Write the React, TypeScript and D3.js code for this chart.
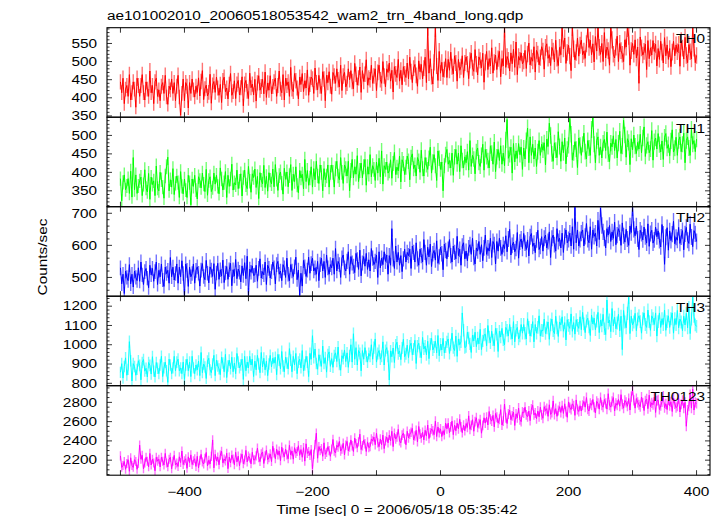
import React from "react";
import * as d3 from "d3";

// ---- data (1 value every DT seconds, starting at T0) ----
const T0 = -500;
const DT = 2;
const TITLE = "ae101002010_20060518053542_wam2_trn_4band_long.qdp";
const X_LABEL = "Time [sec] 0 = 2006/05/18 05:35:42";
const Y_LABEL = "Counts/sec";
const X_TICKS = [-500, -400, -300, -200, -100, 0, 100, 200, 300, 400];
const X_TICK_LABELS = [-400, -200, 0, 200, 400];
const BANDS = ["TH0", "TH1", "TH2", "TH3", "TH0123"];

const TH0 = [
  444, 414, 454, 384, 424, 434, 404, 464, 394, 414, 444, 424, 374, 454, 434,
  404, 434, 464, 414, 394, 444, 424, 404, 474, 414, 434, 384, 444, 454, 404,
  422, 392, 432, 442, 412, 462, 402, 382, 432, 422, 452, 412, 442, 392, 432,
  462, 402, 352, 412, 452, 392, 442, 432, 372, 442, 412, 452, 422, 402, 432,
  415, 455, 405, 445, 475, 395, 425, 435, 405, 415, 465, 385, 435, 445, 415,
  457, 427, 407, 437, 387, 447, 457, 417, 427, 397, 437, 467, 407, 417, 447,
  398, 438, 448, 408, 428, 458, 378, 438, 448, 418, 398, 468, 428, 438, 408,
  451, 391, 441, 461, 421, 431, 451, 411, 471, 401, 441, 421, 461, 411, 431,
  444, 454, 404, 434, 474, 424, 414, 464, 394, 454, 434, 444, 404, 484, 424,
  417, 467, 447, 427, 397, 457, 437, 467, 417, 447, 427, 477, 407, 437, 457,
  452, 412, 482, 442, 422, 462, 432, 412, 472, 452, 392, 462, 442, 472, 432,
  410, 470, 460, 440, 480, 450, 430, 490, 420, 460, 470, 430, 440, 480, 450,
  475, 445, 425, 495, 465, 435, 455, 485, 415, 475, 445, 465, 505, 435, 455,
  450, 490, 440, 460, 480, 420, 470, 490, 450, 440, 500, 460, 430, 480, 470,
  496, 446, 476, 416, 486, 466, 456, 506, 446, 476, 436, 486, 466, 456, 496,
  452, 512, 472, 442, 482, 492, 462, 432, 502, 472, 492, 452, 482, 512, 442,
  596, 468, 508, 458, 438, 498, 592, 488, 448, 528, 468, 498, 458, 478, 508,
  456, 506, 476, 526, 486, 466, 516, 496, 446, 506, 476, 486, 516, 456, 496,
  513, 493, 453, 503, 523, 483, 473, 533, 493, 463, 513, 503, 483, 523, 443,
  498, 528, 478, 508, 488, 538, 468, 498, 518, 478, 508, 528, 458, 508, 488,
  591, 484, 514, 504, 474, 524, 494, 534, 484, 554, 464, 514, 504, 524, 494,
  501, 531, 481, 521, 551, 491, 511, 501, 541, 471, 531, 521, 491, 511, 541,
  529, 479, 539, 549, 509, 519, 489, 539, 529, 499, 559, 509, 489, 539, 519,
  594, 535, 565, 495, 525, 545, 515, 475, 595, 535, 505, 525, 565, 515, 545,
  559, 519, 529, 509, 549, 591, 539, 559, 519, 549, 499, 569, 529, 593, 539,
  520, 550, 500, 580, 510, 540, 530, 490, 594, 560, 520, 510, 540, 570, 500,
  550, 530, 520, 500, 560, 540, 592, 570, 490, 530, 550, 520, 560, 510, 540,
  440, 568, 538, 518, 528, 548, 478, 558, 508, 538, 518, 558, 528, 548, 488,
  536, 506, 556, 526, 496, 566, 516, 546, 506, 536, 486, 526, 556, 516, 546,
  527, 547, 487, 557, 537, 507, 567, 517, 497, 547, 527, 507, 593, 537, 497,
  517,
];

const TH1 = [
  383, 323, 373, 393, 353, 363, 383, 343, 403, 333, 440, 353, 393, 343, 363,
  377, 387, 337, 367, 407, 357, 347, 397, 327, 387, 367, 377, 337, 417, 357,
  350, 400, 380, 360, 330, 390, 415, 441, 350, 380, 360, 410, 340, 370, 390,
  372, 332, 402, 362, 342, 382, 352, 332, 392, 372, 312, 382, 362, 392, 352,
  328, 388, 378, 358, 398, 368, 348, 408, 338, 378, 388, 348, 358, 398, 368,
  392, 362, 342, 412, 382, 352, 372, 402, 332, 392, 362, 382, 422, 352, 372,
  366, 406, 356, 376, 396, 336, 386, 406, 366, 356, 416, 376, 346, 396, 386,
  409, 359, 389, 329, 399, 379, 369, 419, 359, 389, 349, 399, 379, 369, 409,
  361, 421, 381, 351, 391, 401, 371, 341, 411, 381, 401, 361, 391, 421, 351,
  395, 375, 415, 365, 345, 405, 385, 395, 355, 435, 375, 405, 365, 385, 415,
  360, 410, 380, 430, 390, 370, 420, 400, 350, 410, 380, 390, 420, 360, 400,
  420, 400, 360, 410, 430, 390, 380, 440, 400, 370, 420, 410, 390, 430, 350,
  405, 435, 385, 415, 395, 445, 375, 405, 425, 385, 415, 435, 365, 415, 395,
  448, 388, 418, 408, 378, 428, 398, 438, 388, 458, 368, 418, 408, 428, 398,
  404, 434, 384, 424, 454, 394, 414, 404, 444, 374, 434, 424, 394, 414, 444,
  430, 380, 440, 450, 410, 420, 390, 440, 430, 400, 460, 410, 390, 440, 420,
  408, 438, 468, 398, 428, 448, 418, 378, 458, 438, 408, 428, 350, 418, 448,
  462, 422, 432, 412, 452, 392, 442, 462, 422, 452, 402, 472, 432, 412, 442,
  426, 456, 406, 486, 416, 446, 436, 396, 456, 466, 426, 416, 446, 476, 406,
  462, 442, 432, 412, 472, 452, 422, 482, 402, 442, 462, 432, 472, 422, 452,
  418, 488, 543, 438, 448, 468, 398, 478, 428, 458, 438, 478, 448, 468, 408,
  466, 436, 486, 520, 426, 496, 446, 476, 436, 466, 416, 456, 486, 446, 476,
  460, 480, 420, 490, 470, 533, 500, 450, 430, 480, 460, 440, 510, 470, 430,
  483, 453, 493, 423, 463, 473, 546, 503, 433, 453, 483, 463, 413, 493, 473,
  446, 476, 506, 456, 436, 486, 466, 446, 516, 547, 476, 426, 486, 496, 446,
  469, 439, 479, 489, 459, 509, 449, 429, 479, 469, 499, 459, 489, 439, 479,
  511, 451, 471, 541, 501, 441, 491, 481, 421, 491, 461, 501, 471, 451, 481,
  463, 503, 453, 493, 523, 443, 473, 483, 453, 463, 513, 433, 483, 493, 463,
  505, 475, 455, 485, 435, 495, 505, 465, 475, 445, 485, 515, 455, 465, 495,
  446, 486, 496, 456, 476, 506, 426, 486, 496, 466, 446, 516, 476, 486, 456,
  490,
];

const TH2 = [
  530, 480, 510, 450, 520, 500, 490, 540, 480, 510, 470, 520, 500, 490, 530,
  488, 548, 508, 478, 518, 528, 498, 468, 538, 508, 528, 488, 518, 548, 478,
  522, 502, 542, 492, 472, 532, 512, 522, 482, 562, 502, 532, 492, 512, 542,
  482, 532, 502, 552, 512, 443, 542, 522, 472, 532, 502, 512, 542, 482, 522,
  533, 513, 473, 523, 543, 503, 493, 553, 513, 483, 533, 523, 503, 543, 463,
  514, 544, 494, 524, 504, 554, 484, 514, 534, 494, 524, 544, 474, 524, 504,
  556, 496, 526, 516, 486, 536, 506, 546, 496, 566, 446, 526, 516, 536, 506,
  508, 538, 488, 528, 558, 498, 518, 508, 548, 478, 538, 528, 498, 518, 548,
  530, 480, 540, 550, 510, 520, 490, 540, 530, 500, 560, 510, 490, 540, 520,
  503, 533, 563, 493, 523, 444, 513, 473, 553, 533, 503, 523, 563, 513, 543,
  560, 520, 530, 510, 550, 490, 540, 560, 520, 550, 500, 570, 530, 510, 540,
  530, 560, 510, 590, 520, 550, 540, 500, 560, 570, 530, 520, 550, 580, 510,
  565, 545, 535, 515, 575, 555, 525, 585, 505, 545, 565, 535, 575, 525, 555,
  520, 590, 560, 540, 550, 570, 500, 580, 530, 560, 540, 580, 550, 570, 510,
  568, 538, 652, 558, 528, 598, 548, 578, 538, 568, 518, 558, 588, 548, 578,
  568, 588, 528, 598, 578, 548, 608, 558, 538, 588, 568, 548, 618, 578, 538,
  594, 564, 604, 534, 574, 584, 554, 614, 544, 564, 594, 574, 524, 604, 584,
  558, 588, 618, 568, 548, 598, 578, 558, 628, 568, 588, 538, 598, 608, 558,
  582, 552, 592, 602, 572, 622, 562, 542, 592, 582, 612, 572, 602, 552, 592,
  632, 572, 592, 582, 622, 562, 612, 602, 542, 612, 582, 622, 592, 572, 602,
  590, 630, 580, 620, 650, 570, 600, 610, 580, 590, 640, 560, 610, 620, 590,
  637, 607, 587, 617, 567, 627, 637, 597, 607, 577, 617, 647, 587, 597, 627,
  582, 622, 632, 592, 612, 642, 562, 622, 632, 602, 582, 652, 612, 622, 592,
  638, 578, 628, 648, 608, 618, 638, 598, 658, 588, 719, 608, 648, 598, 618,
  638, 648, 598, 628, 668, 618, 608, 658, 588, 648, 628, 638, 598, 678, 618,
  716, 662, 642, 622, 592, 652, 632, 662, 612, 642, 622, 672, 602, 632, 652,
  640, 600, 670, 630, 610, 650, 620, 600, 660, 640, 718, 650, 630, 660, 620,
  587, 647, 637, 617, 657, 627, 607, 667, 597, 637, 647, 607, 617, 657, 627,
  645, 615, 595, 665, 635, 541, 625, 655, 585, 645, 615, 635, 675, 605, 625,
  616, 656, 606, 626, 646, 586, 636, 656, 616, 606, 666, 626, 596, 646, 636,
  612,
];

const TH3 = [
  857, 902, 827, 887, 932, 842, 872, 1016, 917, 812, 902, 887, 842, 872, 917,
  893, 818, 908, 923, 863, 878, 833, 908, 893, 848, 938, 863, 833, 908, 878,
  850, 895, 940, 835, 880, 910, 865, 805, 925, 895, 850, 880, 940, 865, 910,
  925, 865, 880, 850, 910, 820, 895, 925, 865, 910, 835, 940, 880, 850, 895,
  870, 915, 840, 960, 855, 900, 885, 825, 915, 930, 870, 855, 900, 945, 840,
  920, 890, 875, 845, 935, 905, 860, 950, 830, 890, 920, 875, 935, 860, 905,
  850, 955, 910, 880, 895, 925, 820, 940, 865, 910, 880, 940, 895, 925, 835,
  915, 870, 945, 900, 855, 960, 885, 930, 870, 915, 840, 900, 945, 885, 930,
  905, 935, 845, 950, 920, 875, 965, 890, 860, 935, 905, 875, 980, 920, 860,
  940, 895, 955, 850, 910, 925, 880, 970, 865, 895, 940, 910, 835, 955, 925,
  1047, 933, 978, 903, 873, 948, 918, 888, 993, 903, 933, 858, 948, 963, 888,
  928, 883, 943, 958, 913, 988, 898, 868, 943, 928, 973, 913, 958, 883, 943,
  1000, 910, 1057, 925, 985, 895, 970, 955, 865, 970, 925, 985, 940, 910, 955,
  940, 1000, 925, 985, 1030, 910, 955, 970, 925, 940, 1015, 895, 970, 985, 940,
  817, 968, 938, 983, 908, 998, 1013, 953, 968, 923, 983, 1028, 938, 953, 998,
  933, 993, 1008, 948, 978, 1023, 903, 993, 1008, 963, 933, 1038, 978, 993, 948,
  1018, 928, 1003, 1033, 973, 988, 1018, 958, 1048, 943, 1003, 973, 1033, 958, 988,
  1015, 1030, 955, 1000, 1060, 985, 970, 1045, 940, 1030, 1000, 1015, 1165, 1075, 985,
  990, 1065, 1035, 1005, 960, 1050, 1020, 1065, 990, 1035, 1005, 1080, 975, 1020, 1050,
  1055, 995, 1100, 1040, 1010, 1070, 1025, 995, 1085, 1055, 965, 1070, 1040, 1085, 1025,
  1000, 1090, 1075, 1045, 1105, 1060, 1030, 1120, 1015, 1075, 1090, 1030, 1045, 1105, 1060,
  1105, 1060, 1030, 1135, 1090, 1045, 1075, 1120, 1015, 1105, 1060, 1090, 1150, 1045, 1075,
  1073, 1133, 1058, 1088, 1118, 1028, 1103, 1133, 1073, 1058, 1148, 1088, 1043, 1118, 1103,
  1145, 1070, 1115, 1025, 1130, 1100, 1085, 1160, 1070, 1115, 1055, 1130, 1100, 1085, 1145,
  1078, 1168, 1108, 1063, 1123, 1138, 1093, 1048, 1153, 1108, 1138, 1078, 1123, 1168, 1063,
  1128, 1098, 1158, 1083, 1053, 1232, 1113, 1128, 1068, 1188, 1098, 1143, 1083, 1113, 1158,
  1073, 1148, 975, 1178, 1118, 1088, 1163, 1246, 1058, 1148, 1103, 1118, 1163, 1073, 1133,
  1150, 1120, 1060, 1135, 1165, 1105, 1090, 1180, 1120, 1075, 1150, 1135, 1105, 1165, 1045,
  1120, 1165, 1090, 1135, 1105, 1180, 1075, 1120, 1150, 1090, 1135, 1165, 1060, 1135, 1105,
  1178, 1088, 1133, 1118, 1073, 1148, 1103, 1163, 1088, 1193, 1058, 1133, 1248, 1148, 1103,
  1095,
];

const TH0123 = [
  2245, 2125, 2145, 2185, 2105, 2165, 2205, 2085, 2225, 2145, 2125, 2205, 2185, 2105, 2165,
  2356, 2210, 2250, 2110, 2170, 2230, 2190, 2130, 2270, 2150, 2210, 2170, 2090, 2230, 2190,
  2210, 2130, 2230, 2190, 2150, 2270, 2170, 2130, 2210, 2230, 2110, 2190, 2250, 2150, 2170,
  2135, 2235, 2175, 2295, 2155, 2195, 2215, 2115, 2235, 2175, 2255, 2155, 2195, 2215, 2135,
  2240, 2120, 2200, 2260, 2180, 2160, 2220, 2280, 2140, 2200, 2160, 2240, 2410, 2120, 2260,
  2192, 2232, 2152, 2252, 2292, 2172, 2212, 2192, 2272, 2112, 2232, 2172, 2252, 2212, 2152,
  2282, 2182, 2242, 2142, 2222, 2262, 2162, 2202, 2302, 2182, 2242, 2222, 2162, 2282, 2202,
  2205, 2245, 2325, 2225, 2185, 2265, 2285, 2165, 2245, 2305, 2205, 2225, 2265, 2185, 2345,
  2275, 2215, 2315, 2255, 2295, 2195, 2335, 2275, 2235, 2315, 2255, 2215, 2355, 2255, 2295,
  2210, 2330, 2270, 2290, 2350, 2250, 2310, 2230, 2330, 2190, 2370, 2270, 2290, 2250, 2310,
  2108, 2260, 2360, 2480, 2220, 2340, 2300, 2320, 2240, 2380, 2260, 2280, 2340, 2300, 2240,
  2315, 2415, 2295, 2275, 2355, 2335, 2395, 2295, 2315, 2375, 2255, 2355, 2395, 2295, 2335,
  2410, 2350, 2290, 2430, 2370, 2330, 2390, 2470, 2310, 2350, 2410, 2370, 2290, 2390, 2330,
  2340, 2420, 2400, 2440, 2360, 2480, 2380, 2340, 2420, 2360, 2460, 2320, 2400, 2440, 2380,
  2460, 2400, 2500, 2340, 2480, 2420, 2440, 2520, 2400, 2380, 2460, 2480, 2420, 2360, 2500,
  2430, 2470, 2490, 2530, 2410, 2450, 2510, 2390, 2550, 2470, 2430, 2490, 2410, 2510, 2450,
  2565, 2425, 2485, 2525, 2505, 2465, 2605, 2445, 2545, 2485, 2525, 2445, 2505, 2465, 2585,
  2525, 2585, 2485, 2545, 2605, 2465, 2565, 2505, 2585, 2525, 2625, 2545, 2485, 2565, 2505,
  2580, 2540, 2660, 2520, 2560, 2620, 2500, 2600, 2640, 2540, 2580, 2620, 2480, 2560, 2640,
  2585, 2645, 2565, 2705, 2625, 2605, 2665, 2545, 2685, 2645, 2585, 2625, 2725, 2565, 2605,
  2783, 2640, 2580, 2680, 2720, 2620, 2660, 2700, 2560, 2680, 2640, 2740, 2620, 2600, 2700,
  2690, 2750, 2670, 2650, 2710, 2610, 2730, 2770, 2670, 2690, 2630, 2710, 2650, 2750, 2670,
  2635, 2755, 2715, 2735, 2655, 2775, 2675, 2695, 2815, 2675, 2735, 2655, 2715, 2755, 2695,
  2765, 2685, 2785, 2705, 2645, 2805, 2745, 2725, 2785, 2765, 2665, 2825, 2725, 2705, 2765,
  2710, 2770, 2810, 2750, 2850, 2730, 2710, 2790, 2770, 2830, 2750, 2690, 2810, 2790, 2730,
  2850, 2770, 2750, 2830, 2790, 2730, 2890, 2770, 2750, 2810, 2850, 2710, 2790, 2770, 2830,
  2760, 2880, 2780, 2740, 2820, 2800, 2760, 2840, 2720, 2860, 2927, 2820, 2740, 2840, 2800,
  2775, 2755, 2855, 2795, 2715, 2815, 2835, 2735, 2875, 2755, 2795, 2775, 2855, 2695, 2815,
  2825, 2725, 2765, 2805, 2865, 2745, 2785, 2725, 2825, 2765, 2805, 2705, 2845, 2785, 2745,
  2760, 2840, 2700, 2780, 2820, 2740, 2800, 2552, 2720, 2760, 2880, 2740, 2938, 2720, 2800,
  2790,
];

const SERIES = [TH0, TH1, TH2, TH3, TH0123];
const Y_DOMAINS: [number, number][] = [
  [346.5, 593.5],
  [307, 549.3],
  [441.5, 720.5],
  [787.6, 1251.8],
  [2044, 2973],
];
const Y_MAJOR = [50, 50, 100, 100, 200];
const Y_MINOR = [10, 10, 20, 20, 50];
const COLORS = ["#ff0000", "#00ff00", "#0000ff", "#00ffff", "#ff00ff"];

// ---- layout ----
const W = 723;
const H = 516;
const LEFT = 107;
const RIGHT = 710;
const TOP = 27.7;
const PANEL_H = 89.5;
const FONT = "'Liberation Sans', Arial, Helvetica, sans-serif";
const FS = 12;
const SX = 1.28;

function Txt({ x, y, anchor = "start", rotate = 0, children }: any) {
  const t = `translate(${x},${y})${rotate ? ` rotate(${rotate})` : ""} scale(${SX},1)`;
  return (
    <text transform={t} textAnchor={anchor} fontFamily={FONT} fontSize={FS} fill="#000">
      {children}
    </text>
  );
}

const fmt = (v: number) => (v < 0 ? "\u2212" + Math.abs(v) : String(v));

export default function App() {
  const x = d3.scaleLinear().domain([-521, 421]).range([LEFT, RIGHT]);
  const bottom = TOP + PANEL_H * SERIES.length;

  return (
    <svg
      width={W}
      height={H}
      style={{ position: "absolute", left: 0, top: 0, background: "#fff" }}
    >
      <rect x={0} y={0} width={W} height={H} fill="#fff" />
      <defs>
        {SERIES.map((_, k) => (
          <clipPath id={`clip${k}`} key={k}>
            <rect x={LEFT} y={TOP + k * PANEL_H} width={RIGHT - LEFT} height={PANEL_H} />
          </clipPath>
        ))}
      </defs>

      {SERIES.map((vals, k) => {
        const top = TOP + k * PANEL_H;
        const bot = top + PANEL_H;
        const [d0, d1] = Y_DOMAINS[k];
        const y = d3.scaleLinear().domain([d0, d1]).range([bot, top]);
        const pts = vals.map((v, i) => [T0 + i * DT, v] as [number, number]);
        const line = d3
          .line<[number, number]>()
          .x((d) => x(d[0]))
          .y((d) => y(d[1]))(pts);
        const errPath = pts
          .map((d) => {
            const e = Math.sqrt(d[1]);
            return `M${x(d[0]).toFixed(2)},${y(d[1] - e).toFixed(2)}V${y(d[1] + e).toFixed(2)}`;
          })
          .join("");
        const maj = Y_MAJOR[k];
        const mnr = Y_MINOR[k];
        const majors = d3.range(Math.ceil(d0 / maj) * maj, d1 + 1e-9, maj);
        const minors = d3
          .range(Math.ceil(d0 / mnr) * mnr, d1 + 1e-9, mnr)
          .filter((v) => Math.abs(v / maj - Math.round(v / maj)) > 1e-6);
        return (
          <g key={k}>
            <g clipPath={`url(#clip${k})`}>
              <path d={errPath} stroke={COLORS[k]} strokeOpacity={0.55} strokeWidth={1.4} fill="none" />
              <path d={line || ""} stroke={COLORS[k]} strokeWidth={1} fill="none" />
            </g>
            {majors.map((v) => (
              <g key={"M" + v}>
                <line x1={LEFT} x2={LEFT + 5} y1={y(v)} y2={y(v)} stroke="#000" strokeWidth={0.8} />
                <line x1={RIGHT - 5} x2={RIGHT} y1={y(v)} y2={y(v)} stroke="#000" strokeWidth={0.8} />
                <Txt x={LEFT - 10} y={y(v) + 4.3} anchor="end">
                  {fmt(v)}
                </Txt>
              </g>
            ))}
            {minors.map((v) => (
              <g key={"m" + v}>
                <line x1={LEFT} x2={LEFT + 2.5} y1={y(v)} y2={y(v)} stroke="#000" strokeWidth={0.8} />
                <line x1={RIGHT - 2.5} x2={RIGHT} y1={y(v)} y2={y(v)} stroke="#000" strokeWidth={0.8} />
              </g>
            ))}
            {X_TICKS.map((t) => (
              <g key={"x" + t}>
                <line x1={x(t)} x2={x(t)} y1={top} y2={top + 5} stroke="#000" strokeWidth={0.8} />
                <line x1={x(t)} x2={x(t)} y1={bot - 5} y2={bot} stroke="#000" strokeWidth={0.8} />
              </g>
            ))}
            <rect
              x={LEFT}
              y={top}
              width={RIGHT - LEFT}
              height={PANEL_H}
              fill="none"
              stroke="#000"
              strokeWidth={1.1}
            />
            <Txt x={705} y={top + 15.6} anchor="end">
              {BANDS[k]}
            </Txt>
          </g>
        );
      })}

      {X_TICK_LABELS.map((t) => (
        <Txt key={t} x={x(t)} y={bottom + 21} anchor="middle">
          {fmt(t)}
        </Txt>
      ))}
      <Txt x={397} y={bottom + 38.5} anchor="middle">
        {X_LABEL}
      </Txt>
      <Txt x={47} y={257} anchor="middle" rotate={-90}>
        {Y_LABEL}
      </Txt>
      <Txt x={LEFT} y={19.5} anchor="start">
        {TITLE}
      </Txt>
    </svg>
  );
}
